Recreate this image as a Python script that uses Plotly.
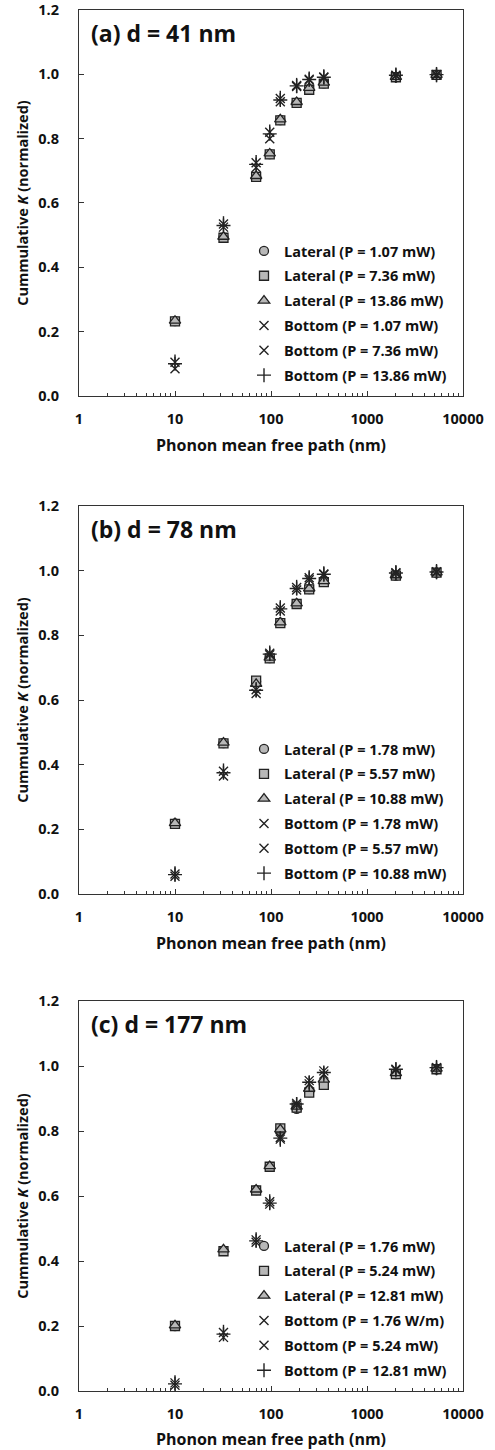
import plotly.graph_objects as go

# ---------------- data ----------------
mfp = [10, 32, 70, 97, 125, 185, 250, 355, 2000, 5300]

panel_labels = ["(a) d = 41 nm", "(b) d = 78 nm", "(c) d = 177 nm"]

legend_names = [
    ["Lateral (P = 1.07 mW)", "Lateral (P = 7.36 mW)", "Lateral (P = 13.86 mW)",
     "Bottom (P = 1.07 mW)", "Bottom (P = 7.36 mW)", "Bottom (P = 13.86 mW)"],
    ["Lateral (P = 1.78 mW)", "Lateral (P = 5.57 mW)", "Lateral (P = 10.88 mW)",
     "Bottom (P = 1.78 mW)", "Bottom (P = 5.57 mW)", "Bottom (P = 10.88 mW)"],
    ["Lateral (P = 1.76 mW)", "Lateral (P = 5.24 mW)", "Lateral (P = 12.81 mW)",
     "Bottom (P = 1.76 W/m)", "Bottom (P = 5.24 mW)", "Bottom (P = 12.81 mW)"],
]

# panel (a) d = 41 nm
a_lat1 = [0.233, 0.493, 0.682, 0.752, 0.858, 0.912, 0.953, 0.972, 0.991, 0.998]
a_lat2 = [0.232, 0.492, 0.681, 0.751, 0.857, 0.911, 0.952, 0.971, 0.991, 0.998]
a_lat3 = [0.234, 0.495, 0.684, 0.754, 0.860, 0.914, 0.958, 0.974, 0.992, 0.998]
a_bot1 = [0.085, 0.525, 0.710, 0.800, 0.915, 0.962, 0.982, 0.990, 0.996, 0.999]
a_bot2 = [0.105, 0.535, 0.725, 0.820, 0.925, 0.965, 0.985, 0.992, 0.997, 0.999]
a_bot3 = [0.100, 0.530, 0.720, 0.815, 0.920, 0.964, 0.984, 0.991, 0.997, 0.999]

# panel (b) d = 78 nm
b_lat1 = [0.218, 0.467, 0.657, 0.730, 0.839, 0.898, 0.943, 0.966, 0.985, 0.994]
b_lat2 = [0.217, 0.466, 0.660, 0.729, 0.838, 0.897, 0.942, 0.965, 0.985, 0.994]
b_lat3 = [0.219, 0.468, 0.650, 0.731, 0.840, 0.899, 0.945, 0.968, 0.986, 0.995]
b_bot1 = [0.055, 0.365, 0.620, 0.740, 0.875, 0.940, 0.972, 0.988, 0.992, 0.996]
b_bot2 = [0.062, 0.380, 0.632, 0.745, 0.885, 0.948, 0.978, 0.990, 0.994, 0.997]
b_bot3 = [0.060, 0.375, 0.630, 0.742, 0.882, 0.945, 0.976, 0.989, 0.993, 0.996]

# panel (c) d = 177 nm
c_lat1 = [0.200, 0.432, 0.618, 0.690, 0.800, 0.868, 0.920, 0.945, 0.975, 0.990]
c_lat2 = [0.200, 0.430, 0.617, 0.690, 0.808, 0.872, 0.918, 0.942, 0.975, 0.990]
c_lat3 = [0.202, 0.436, 0.620, 0.692, 0.805, 0.875, 0.930, 0.958, 0.978, 0.992]
c_bot1 = [0.018, 0.165, 0.458, 0.575, 0.780, 0.885, 0.955, 0.985, 0.990, 0.995]
c_bot2 = [0.025, 0.180, 0.465, 0.582, 0.775, 0.880, 0.945, 0.975, 0.988, 0.995]
c_bot3 = [0.022, 0.175, 0.462, 0.578, 0.778, 0.883, 0.950, 0.980, 0.990, 0.995]

panels = [
    [a_lat1, a_lat2, a_lat3, a_bot1, a_bot2, a_bot3],
    [b_lat1, b_lat2, b_lat3, b_bot1, b_bot2, b_bot3],
    [c_lat1, c_lat2, c_lat3, c_bot1, c_bot2, c_bot3],
]

x_ticks = [1, 10, 100, 1000, 10000]
y_ticks = [0.0, 0.2, 0.4, 0.6, 0.8, 1.0, 1.2]

# ---------------- style ----------------
FONT = "Open Sans, Noto Sans, DejaVu Sans, sans-serif"
GRAY = "#b8b8b8"
EDGE = "#222222"
y_domains = [[0.7205, 1.0], [0.3599, 0.6408], [0.0, 0.2824]]

fig = go.Figure()

for p, series in enumerate(panels):
    xa = "x" if p == 0 else f"x{p+1}"
    ya = "y" if p == 0 else f"y{p+1}"
    lg = "legend" if p == 0 else f"legend{p+1}"
    names = legend_names[p]
    styles = [
        dict(symbol="circle", size=9, color=GRAY, line=dict(color=EDGE, width=1.3)),
        dict(symbol="square", size=9, color=GRAY, line=dict(color=EDGE, width=1.3)),
        dict(symbol="triangle-up", size=10, color=GRAY, line=dict(color=EDGE, width=1.3)),
        dict(symbol="x-thin", size=9, color=EDGE, line=dict(color=EDGE, width=1.4)),
        dict(symbol="x-thin", size=9, color=EDGE, line=dict(color=EDGE, width=1.4)),
        dict(symbol="cross-thin", size=10, color=EDGE, line=dict(color=EDGE, width=1.4)),
    ]
    for i, (vals, st) in enumerate(zip(series, styles)):
        grp = f"p{p}s{i}"
        fig.add_trace(go.Scatter(
            x=mfp, y=vals, mode="markers", name=names[i], marker=st,
            xaxis=xa, yaxis=ya, legend=lg, legendgroup=grp,
        ))
        if i == 4:
            # vertical bar completing the Excel-style star marker
            fig.add_trace(go.Scatter(
                x=mfp, y=vals, mode="markers", showlegend=False,
                marker=dict(symbol="line-ns", size=11, color=EDGE,
                            line=dict(color=EDGE, width=1.4)),
                xaxis=xa, yaxis=ya, legend=lg, legendgroup=grp,
            ))

layout = dict(
    width=495, height=1450,
    margin=dict(l=79, r=32, t=10, b=59, autoexpand=False),
    plot_bgcolor="white", paper_bgcolor="white",
    font=dict(family=FONT, size=14, color="#111111", weight="bold"),
    annotations=[],
)

for p in range(3):
    sx = "" if p == 0 else str(p + 1)
    layout[f"xaxis{sx}"] = dict(
        type="log", range=[0, 4], domain=[0, 1],
        anchor=f"y{sx}", automargin=False,
        tickvals=x_ticks, ticktext=[str(v) for v in x_ticks],
        ticks="inside", ticklen=5, tickwidth=1.2, tickcolor="#333",
        minor=dict(ticks="inside", ticklen=3, tickwidth=1, tickcolor="#333",
                   dtick="D1"),
        showline=True, linecolor="#333", linewidth=1.3, mirror=True,
        showgrid=False, zeroline=False,
        tickfont=dict(size=14.5),
        ticklabelstandoff=9,
        title=dict(text="Phonon mean free path (nm)", font=dict(size=16), standoff=13),
    )
    layout[f"yaxis{sx}"] = dict(
        range=[0, 1.2], domain=y_domains[p], anchor=f"x{sx}", automargin=False,
        tickvals=y_ticks, ticktext=[f"{v:.1f}" for v in y_ticks],
        ticks="inside", ticklen=5, tickwidth=1.2, tickcolor="#333",
        showline=True, linecolor="#333", linewidth=1.3, mirror=True,
        showgrid=False, zeroline=False,
        tickfont=dict(size=14.5),
        ticklabelstandoff=16,
        title=dict(text="Cummulative <i>K</i> (normalized)", font=dict(size=14.5), standoff=6),
    )
    lg = "legend" if p == 0 else f"legend{p+1}"
    bottom_px = [392, 890, 1387][p]
    layout[lg] = dict(
        x=(244 - 79) / 384, xanchor="left",
        y=(1391 - bottom_px) / 1381, yanchor="bottom",
        bgcolor="rgba(0,0,0,0)", borderwidth=0,
        font=dict(size=14.5, family=FONT, weight="bold"),
        tracegroupgap=3, itemwidth=30,
    )
    layout["annotations"].append(dict(
        text=panel_labels[p], xref=f"x{sx} domain", yref=f"y{sx} domain",
        x=0.025, y=0.94, xanchor="left", yanchor="middle", showarrow=False,
        font=dict(size=23, family=FONT, weight="bold", color="#111"),
    ))

fig.update_layout(**layout)
fig.write_html(
    "out.html",
    config={"displayModeBar": False},
    post_script="document.body.style.margin='0px';document.body.style.overflow='hidden';",
)
